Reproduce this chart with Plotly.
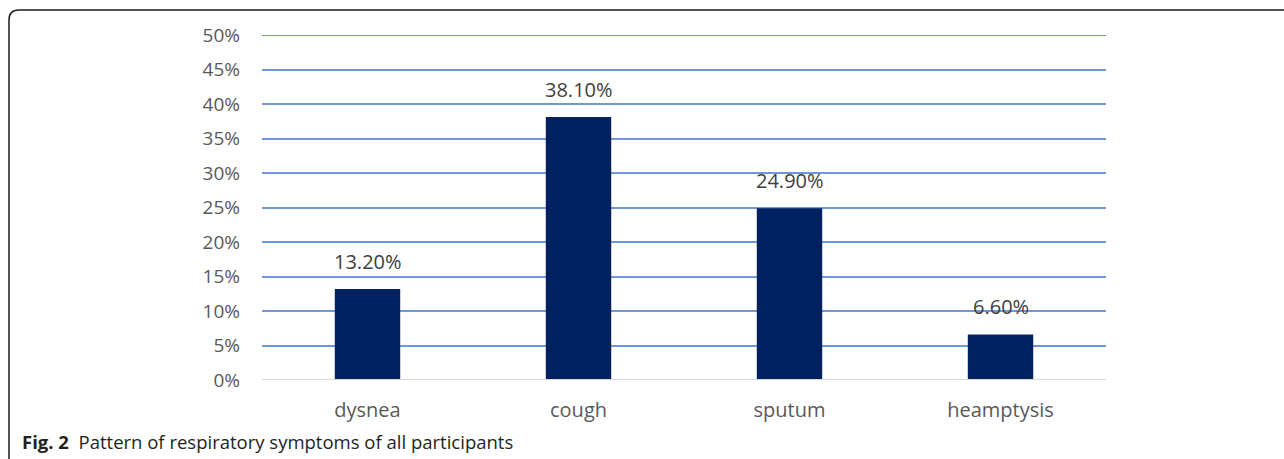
import plotly.graph_objects as go

categories = ["dysnea", "cough", "sputum", "heamptysis"]
values = [13.2, 38.1, 24.9, 6.6]
labels = ["13.20%", "38.10%", "24.90%", "6.60%"]
tick_vals = [0, 5, 10, 15, 20, 25, 30, 35, 40, 45, 50]
tick_text = [f"{v}%" for v in tick_vals]
caption_bold = "Fig. 2"
caption = "Pattern of respiratory symptoms of all participants"

W, H = 1284, 459
L, R, T, B = 262, 1106, 35, 380
pw, ph = R - L, B - T

def px(x):
    return (x - L) / pw

def py(y):
    return (B - y) / ph

fig = go.Figure()
fig.add_trace(go.Bar(
    x=categories, y=values, width=0.31,
    marker=dict(color="#002060", line=dict(width=0)),
    hoverinfo="skip",
))

for c, v, t in zip(categories, values, labels):
    fig.add_annotation(x=c, y=v, text=t, showarrow=False, yanchor="bottom",
                       yshift=12, font=dict(family="Open Sans", size=20, color="#404040"))

fig.add_annotation(xref="paper", yref="paper", x=px(20), y=py(441), xanchor="left",
                   yanchor="middle", showarrow=False,
                   text=f"<b>{caption_bold}</b>  {caption}",
                   font=dict(family="Open Sans", size=18.5, color="#231f20"))

# rounded frame
rx, ry = 10 / pw, 10 / ph
xl, yt, yb, xr = px(9), py(10), py(462), px(1290)
path = (f"M {xl},{yb} L {xl},{yt - ry} Q {xl},{yt} {xl + rx},{yt} L {xr},{yt}")
fig.add_shape(type="path", xref="paper", yref="paper", path=path,
              line=dict(color="#1a1a1a", width=1.5))

fig.update_layout(
    width=W, height=H,
    margin=dict(l=L, r=W - R, t=T, b=H - B, pad=0),
    plot_bgcolor="white", paper_bgcolor="white",
    showlegend=False,
    font=dict(family="Open Sans", color="#595959", size=19),
    xaxis=dict(range=[-0.5, 3.5], showgrid=False, showline=False, zeroline=False,
               ticks="", ticklabelstandoff=16, tickfont=dict(size=20, color="#595959")),
    yaxis=dict(range=[0, 50], tickvals=tick_vals, ticktext=tick_text,
               showgrid=True, gridcolor="#7297D8", gridwidth=2,
               zeroline=False, showline=False, ticks="", ticklabelstandoff=21,
               tickfont=dict(size=19, color="#595959")),
)
# top gridline (plotly skips the gridline on the plot edge)
fig.add_shape(type="line", xref="paper", yref="y", x0=0, x1=1,
              y0=tick_vals[-1], y1=tick_vals[-1],
              line=dict(color="#7297D8", width=2), layer="below")
fig.add_shape(type="line", xref="paper", yref="y", x0=0, x1=1, y0=0, y1=0,
              line=dict(color="#D9D9D9", width=2), layer="above")

fig.write_html("out.html", config={"displayModeBar": False},
               post_script="document.body.style.margin='0';document.body.style.overflow='hidden';")
